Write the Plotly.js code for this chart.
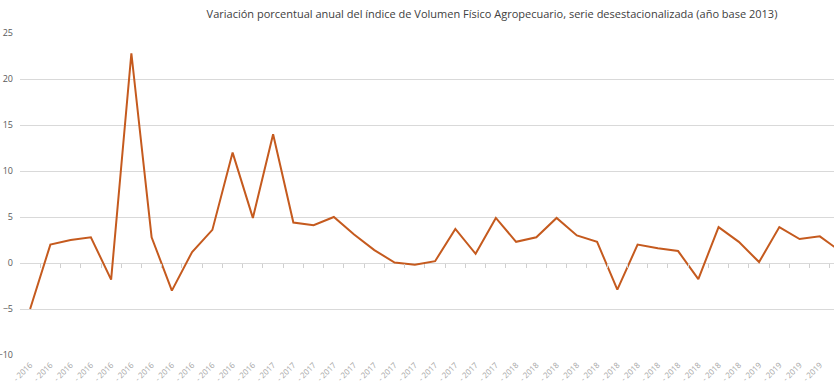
<!DOCTYPE html>
<html>
<head>
<meta charset="utf-8">
<script src="https://cdn.plot.ly/plotly-3.0.1.min.js"></script>
<style>
html,body{margin:0;padding:0;background:#fff;}
#chart{width:834px;height:390px;}
</style>
</head>
<body>
<div id="chart"></div>
<script>
const months = ["Ene","Feb","Mar","Abr","May","Jun","Jul","Ago","Sep","Oct","Nov","Dic"];
const years = [2016, 2017, 2018, 2019];
const monthsPerYear = [12, 12, 12, 5];
const periodLabels = [];
const tickLabels = [];
years.forEach((yr, k) => {
  for (let m = 0; m < monthsPerYear[k]; m++) {
    periodLabels.push(months[m] + " - " + yr);
    tickLabels.push("- " + yr);
  }
});
const variacion = [-5.0, 2.0, 2.5, 2.8, -1.8, 22.8, 2.8, -3.0, 1.2, 3.6,
                   12.0, 4.9, 14.0, 4.4, 4.1, 5.0, 3.1, 1.4, 0.05, -0.2,
                   0.2, 3.7, 1.0, 4.9, 2.3, 2.8, 4.9, 3.0, 2.3, -2.9,
                   2.0, 1.6, 1.3, -1.75, 3.9, 2.3, 0.1, 3.9, 2.6, 2.9, 1.3];
const yTicks = [-10, -5, 0, 5, 10, 15, 20, 25];
const titleText = "Variación porcentual anual del índice de Volumen Físico Agropecuario, serie desestacionalizada (año base 2013)";

const n = periodLabels.length;
const boundaryTicks = [];
for (let i = 0; i < n - 1; i++) boundaryTicks.push(i + 0.5);

const traces = [{
  type: "scatter", mode: "lines",
  x: periodLabels, y: variacion,
  line: {color: "#C55A1E", width: 2},
  hoverinfo: "x+y", showlegend: false
}, {
  type: "scatter", mode: "lines", x: [0], y: [null],
  xaxis: "x2", yaxis: "y", showlegend: false, hoverinfo: "skip"
}];

const layout = {
  width: 834, height: 390,
  margin: {l: 20, r: 0, t: 33, b: 35, pad: 0},
  paper_bgcolor: "#ffffff", plot_bgcolor: "#ffffff",
  font: {family: "Open Sans, sans-serif", color: "#595959"},
  title: {
    text: titleText,
    font: {family: "Open Sans, sans-serif", size: 11, color: "#404040"},
    x: 492/834, xanchor: "center", xref: "container",
    y: 1 - 14/390, yanchor: "middle", yref: "container"
  },
  xaxis: {
    type: "category", categoryorder: "array", categoryarray: periodLabels,
    range: [-0.5, 39.7], tickmode: "array", tickvals: periodLabels, ticktext: tickLabels,
    tickangle: -45, tickfont: {size: 8, color: "#a6a6a6"},
    showgrid: false, zeroline: false, showline: false, ticks: "",
    ticklabelstandoff: 3,
    automargin: false, fixedrange: true
  },
  xaxis2: {
    type: "linear", overlaying: "x", anchor: "free", position: 10/35,
    range: [-0.5, 39.7], showgrid: false, zeroline: false, showline: false,
    tickmode: "array", tickvals: boundaryTicks, ticks: "outside", ticklen: 4,
    tickcolor: "#d0d0d0", tickwidth: 1, showticklabels: false, fixedrange: true
  },
  yaxis: {
    range: [-10, 25], tickmode: "array", tickvals: yTicks,
    tickfont: {size: 9, color: "#595959"},
    showgrid: true, gridcolor: "#d9d9d9", gridwidth: 1,
    zeroline: false, showline: false, ticks: "", automargin: false,
    ticklabelstandoff: 6, fixedrange: true
  }
};

Plotly.newPlot("chart", traces, layout, {displayModeBar: false, staticPlot: true});
</script>
</body>
</html>
